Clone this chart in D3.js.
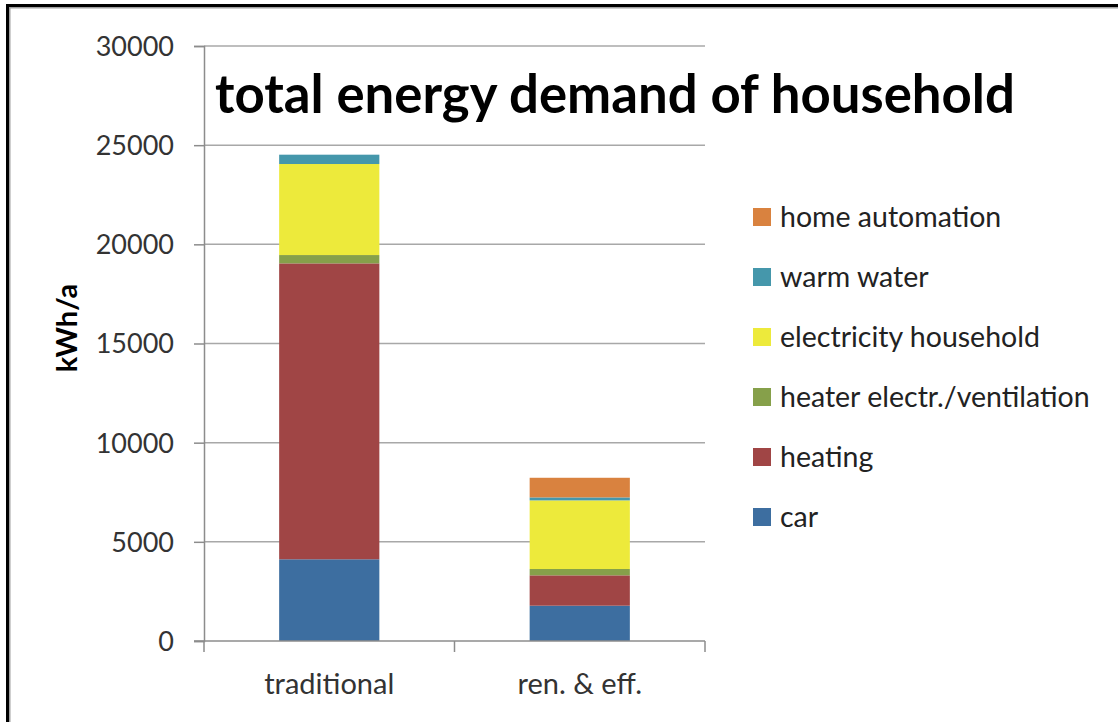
<!DOCTYPE html>
<html>
<head>
<meta charset="utf-8">
<script src="https://cdn.jsdelivr.net/npm/d3@7"></script>
<style>
  html, body { margin: 0; padding: 0; background: #fff; }
  svg { display: block; }
</style>
</head>
<body>
<svg id="chart" width="1118" height="722"></svg>
<script>
// Annual energy demand of a household, kWh/a, stacked by use
const categories = ["traditional", "ren. & eff."];
const seriesNames = ["car", "heating", "heater electr./ventilation", "electricity household", "warm water", "home automation"];
const car              = [4120, 1780];
const heating          = [14920, 1530];
const heaterVent       = [420, 320];
const electricity      = [4590, 3460];
const warmWater        = [470, 150];
const homeAutomation   = [0, 990];
const seriesColors = ["#3D6EA0", "#A04545", "#86A04A", "#EDEA3B", "#4597AB", "#D9823F"];
const yTicks = [0, 5000, 10000, 15000, 20000, 25000, 30000];

const seriesValues = [car, heating, heaterVent, electricity, warmWater, homeAutomation];
const rows = categories.map((c, i) => {
  const r = { category: c };
  seriesNames.forEach((s, k) => { r[s] = seriesValues[k][i]; });
  return r;
});

const svg = d3.select("#chart");
const font = "Lato, 'Open Sans', sans-serif";

// frame (open on the right and bottom)
svg.append("rect").attr("x", 9).attr("y", 7).attr("width", 1118).attr("height", 722)
  .attr("fill", "none").attr("stroke", "#a0a0a0").attr("stroke-width", 3);
svg.append("line").attr("x1", 7.5).attr("x2", 7.5).attr("y1", 5).attr("y2", 722)
  .attr("stroke", "#000").attr("stroke-width", 3);
svg.append("line").attr("x1", 6).attr("x2", 1118).attr("y1", 5.5).attr("y2", 5.5)
  .attr("stroke", "#000").attr("stroke-width", 3);

const plot = { left: 204, right: 705, top: 46, bottom: 641 };

const y = d3.scaleLinear().domain([0, 30000]).range([plot.bottom, plot.top]);
const x = d3.scaleBand().domain(categories).range([plot.left, plot.right])
  .paddingInner(0.6).paddingOuter(0.3);

// horizontal gridlines
svg.append("g").selectAll("line").data(yTicks.filter(t => t > 0)).join("line")
  .attr("x1", plot.left).attr("x2", plot.right)
  .attr("y1", d => y(d)).attr("y2", d => y(d))
  .attr("stroke", "#a8a8a8").attr("stroke-width", 1.5);

// stacked bars
const stack = d3.stack().keys(seriesNames);
const layers = stack(rows);
svg.append("g").selectAll("g").data(layers).join("g")
  .attr("fill", (d, i) => seriesColors[i])
  .selectAll("rect").data(d => d).join("rect")
  .attr("x", d => x(d.data.category))
  .attr("width", x.bandwidth())
  .attr("y", d => y(d[1]))
  .attr("height", d => Math.max(0, y(d[0]) - y(d[1])));

// y axis
const yAxis = svg.append("g").attr("transform", `translate(${plot.left},0)`)
  .call(d3.axisLeft(y).tickValues(yTicks).tickSize(10).tickPadding(20).tickFormat(d3.format("d")));
yAxis.select(".domain").attr("stroke", "#8c8c8c").attr("stroke-width", 1.5);
yAxis.selectAll(".tick line").attr("stroke", "#8c8c8c").attr("stroke-width", 1.5);
yAxis.selectAll(".tick text").attr("font-family", font).attr("font-size", 27)
  .attr("fill", "#333").attr("dy", "0.35em");

// x axis
const xAxis = svg.append("g").attr("transform", `translate(0,${plot.bottom})`)
  .call(d3.axisBottom(x).tickSize(0));
xAxis.select(".domain").attr("stroke", "#8c8c8c").attr("stroke-width", 1.5)
  .attr("d", `M${plot.left - 10},0H${plot.right}`);
xAxis.selectAll(".tick text").attr("font-family", font).attr("font-size", 29)
  .attr("fill", "#333").attr("y", 53).attr("dy", null);
// category separators on the x axis
xAxis.append("g").selectAll("line")
  .data([plot.left, (x(categories[0]) + x(categories[1]) + x.bandwidth()) / 2, plot.right]).join("line")
  .attr("x1", d => d).attr("x2", d => d).attr("y1", 0).attr("y2", 11)
  .attr("stroke", "#8c8c8c").attr("stroke-width", 1.5);

// y axis title
svg.append("text").attr("transform", "translate(77,328) rotate(-90)")
  .attr("text-anchor", "middle").attr("font-family", font).attr("font-weight", "bold")
  .attr("font-size", 29).attr("fill", "#000").text("kWh/a");

// chart title, sized to span the top of the chart
const title = svg.append("text").attr("x", 215).attr("y", 113)
  .attr("font-family", font).attr("font-weight", "bold").attr("font-size", 46)
  .attr("fill", "#000").text("total energy demand of household");
const tw = title.node().getComputedTextLength();
title.attr("font-size", 46 * 800 / tw);

// legend, top entry is the last series
const legend = svg.append("g").selectAll("g").data(seriesNames.slice().reverse()).join("g")
  .attr("transform", (d, i) => `translate(753,${217 + i * 60})`);
legend.append("rect").attr("x", 0).attr("y", -9).attr("width", 18).attr("height", 18)
  .attr("fill", d => seriesColors[seriesNames.indexOf(d)]);
legend.append("text").attr("x", 27).attr("y", 0).attr("dy", "0.35em")
  .attr("font-family", font).attr("font-size", 28.5).attr("fill", "#222").text(d => d);
</script>
</body>
</html>
